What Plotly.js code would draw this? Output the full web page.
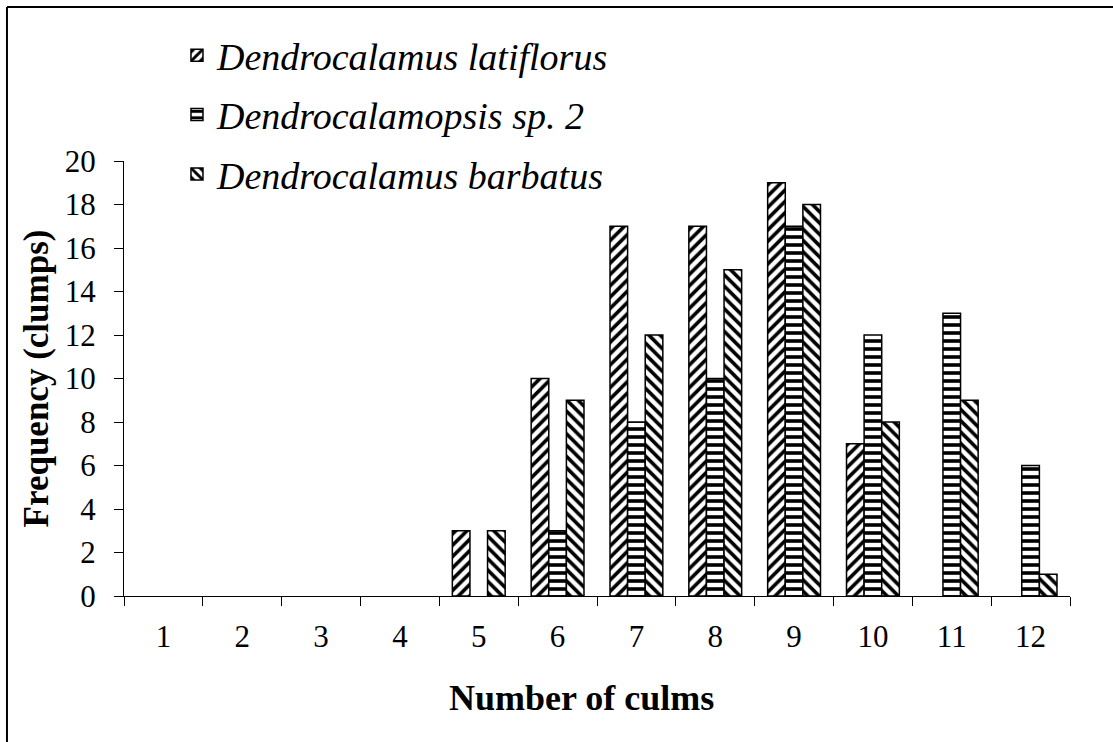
<!DOCTYPE html>
<html>
<head>
<meta charset="utf-8">
<script src="https://cdn.plot.ly/plotly-3.0.1.min.js"></script>
<style>html,body{margin:0;padding:0;background:#fff;overflow:hidden;}#chart{width:1113px;height:742px;}</style>
</head>
<body>
<div id="chart"></div>
<script>
var categories = ["1","2","3","4","5","6","7","8","9","10","11","12"];
var seriesNames = ["Dendrocalamus latiflorus", "Dendrocalamopsis sp. 2", "Dendrocalamus barbatus"];
var latiflorus = [0,0,0,0,3,10,17,17,19,7,0,0];
var sp2 = [0,0,0,0,0,3,8,10,17,12,13,6];
var barbatus = [0,0,0,0,3,9,12,15,18,8,9,1];
var yTicks = [0,2,4,6,8,10,12,14,16,18,20];
var xTitle = "Number of culms";
var yTitle = "Frequency (clumps)";

var serif = "Liberation Serif, Times New Roman, serif";
var shapes = ["/", "-", "\\"];
var values = [latiflorus, sp2, barbatus];
var traces = values.map(function(v, i){
  return {
    type: "bar",
    x: categories,
    // zero counts are not drawn in the original (no empty outline at the baseline)
    y: v.map(function(val){ return val === 0 ? null : val; }),
    name: seriesNames[i],
    legendgroup: "g" + i,
    marker: {
      color: "white",
      line: {color: "black", width: 1.5},
      pattern: {shape: shapes[i], fgcolor: "black", bgcolor: "white", size: 8, solidity: 0.45}
    },
    hoverinfo: "x+y+name"
  };
});

var layout = {
  width: 1113, height: 742,
  margin: {l: 124, r: 43, t: 161, b: 146, pad: 0},
  paper_bgcolor: "white", plot_bgcolor: "white",
  barmode: "group", bargap: 0.33, bargroupgap: 0,
  font: {family: serif, color: "black"},
  showlegend: true,
  legend: {
    x: 0.056, y: 1.315, xanchor: "left", yanchor: "top",
    bgcolor: "rgba(0,0,0,0)", borderwidth: 0,
    font: {family: serif, size: 38, color: "black", style: "italic"},
    tracegroupgap: 7, traceorder: "grouped"
  },
  xaxis: {
    type: "category", range: [-0.5, 11.5],
    showline: true, linecolor: "black", linewidth: 1,
    ticks: "outside", tickson: "boundaries", ticklen: 9, tickcolor: "black", tickwidth: 1,
    ticklabelstandoff: 13,
    tickfont: {family: serif, size: 31, color: "black"},
    showgrid: false, zeroline: false
  },
  yaxis: {
    range: [0, 20], tickvals: yTicks,
    showline: true, linecolor: "black", linewidth: 1,
    ticks: "outside", ticklen: 9, tickcolor: "black", tickwidth: 1,
    ticklabelstandoff: 12,
    tickfont: {family: serif, size: 31, color: "black"},
    showgrid: false, zeroline: false,
    title: {text: "<b>" + yTitle + "</b>", font: {family: serif, size: 35, color: "black"}, standoff: 5}
  },
  annotations: [{
    text: "<b>" + xTitle + "</b>", xref: "paper", yref: "paper",
    x: 0.484, y: -0.2345, xanchor: "center", yanchor: "middle", showarrow: false,
    font: {family: serif, size: 36, color: "black"}
  }],
  shapes: [
    {type: "line", xref: "paper", yref: "paper", x0: -0.1237, x1: 1.2, y0: 1.354, y1: 1.354,
     line: {color: "black", width: 2}, layer: "above"},
    {type: "line", xref: "paper", yref: "paper", x0: -0.1237, x1: -0.1237, y0: -0.5, y1: 1.354,
     line: {color: "black", width: 2}, layer: "above"}
  ]
};

Plotly.newPlot("chart", traces, layout, {displayModeBar: false, responsive: false});
</script>
</body>
</html>
